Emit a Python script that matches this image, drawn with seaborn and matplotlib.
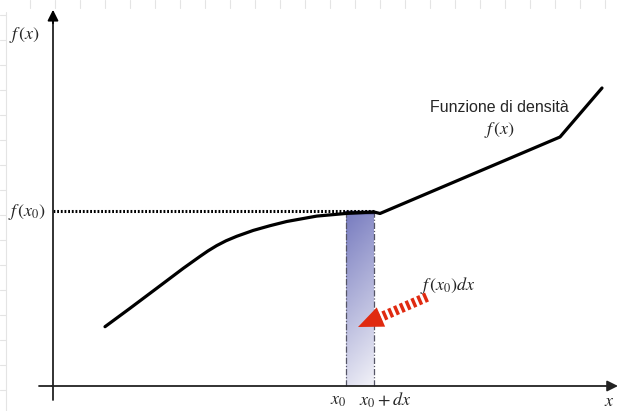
import numpy as np
import pandas as pd
import seaborn as sns
from matplotlib import pyplot as plt
from matplotlib.colors import LinearSegmentedColormap

# density curve, in drawing units (origin where the axes cross)
curve_x = [52, 77, 103.7, 130.3, 147, 155, 163.7, 173, 183.7, 200.3, 217,
           233.7, 263.7, 293.7, 321, 327, 507, 549]
curve_y = [59.3, 77.7, 97.7, 117.7, 129.6, 135.1, 140.4, 145.2, 149.7,
           155.6, 160.3, 164.5, 169.9, 172.6, 174, 172.5, 249, 298]

x0 = 293
dx = 28
fx0 = 174.5

arrow_tail = (374, 89)
arrow_tip = (305, 59)

curve_label = 'Funzione di densità'
tick_labels = [r'$x_0$', r'$x_0 + dx$']

sns.set_theme(style='white')
plt.rcParams['mathtext.fontset'] = 'stix'
plt.rcParams['font.family'] = ['Liberation Sans', 'DejaVu Sans']

fig = plt.figure(figsize=(6.18, 4.11), dpi=100)
ax = fig.add_axes([0, 0, 1, 1])
ax.set_xlim(-53, 565)
ax.set_ylim(-25, 386)
ax.axis('off')

# faint spreadsheet edges in the background
grid_c = '#e4e4e4'
ax.plot([-47, -47], [-25, 374], color=grid_c, lw=0.8)
for yy in np.arange(371, -25, -25):
    ax.plot([-53, -47], [yy, yy], color=grid_c, lw=0.8)
for xx in np.arange(-23, 565, 25):
    ax.plot([xx, xx], [386, 378], color=grid_c, lw=0.8)

# shaded strip f(x0) dx with a gradient
cmap = LinearSegmentedColormap.from_list('strip', ['#f2f2f8', '#777bbf'])
v = np.linspace(0, 1, 200)[:, None]
h = np.linspace(1, 0, 40)[None, :]
grad = 0.85 * v + 0.15 * h
ax.imshow(grad, extent=[x0, x0 + dx, 0, fx0], origin='lower', cmap=cmap,
          aspect='auto', zorder=1, vmin=0, vmax=1)
for xe in [x0, x0 + dx]:
    ax.plot([xe, xe], [0, fx0], color='#555566', lw=0.9,
            ls=(0, (5, 1.5, 1, 1.5)), zorder=2)
ax.plot([x0, x0 + dx], [fx0 - 1, fx0 - 1], color='#222255', lw=2.5, zorder=2)

# dotted guide at f(x0)
ax.plot([0, x0 + dx], [fx0, fx0], color='black', lw=2.2,
        ls=(0, (0.6, 0.6)), zorder=3)

# the density curve
df = pd.DataFrame({'x': curve_x, 'y': curve_y})
sns.lineplot(data=df, x='x', y='y', ax=ax, color='black', lw=2.3,
             estimator=None, sort=False, zorder=4,
             solid_joinstyle='round', solid_capstyle='round')
ax.set_xlabel('')
ax.set_ylabel('')

# axes with arrow heads
ax.plot([0, 0], [-14, 370], color='#222222', lw=1.3, zorder=5)
ax.plot([-14, 0], [0, 0], color='#222222', lw=1.3, zorder=5)
ax.annotate('', xy=(0, 379), xytext=(0, 360),
            arrowprops=dict(arrowstyle='-|>', color='black', lw=1.3,
                            mutation_scale=16), zorder=5)
ax.annotate('', xy=(565, 0), xytext=(-1, 0),
            arrowprops=dict(arrowstyle='-|>', color='#222222', lw=1.3,
                            mutation_scale=16, shrinkA=0, shrinkB=0), zorder=5)

# red arrow pointing at the strip: striped shaft, solid head
red = '#e02a10'
tx, ty = arrow_tail
hx, hy = arrow_tip
length = np.hypot(hx - tx, hy - ty)
ux, uy = (hx - tx) / length, (hy - ty) / length
head_len = 25
bx, by = hx - ux * head_len, hy - uy * head_len
ax.plot([tx, bx + ux * 3], [ty, by + uy * 3], color=red, lw=7,
        ls=(0, (0.35, 0.3)), dash_capstyle='butt', zorder=6)
ax.arrow(bx, by, hx - bx, hy - by, width=0.5, head_width=21,
         head_length=head_len, length_includes_head=True,
         color=red, lw=0, zorder=7)

# labels
ms = 13
ax.text(-28, 351, r'$f\,(x)$', fontsize=ms, ha='center', va='center')
ax.text(-26, 174, r'$f\,(x_0)$', fontsize=ms, ha='center', va='center')
ax.text(x0 - 8, -14, tick_labels[0], fontsize=ms, ha='center', va='center')
ax.text(x0 + dx + 11, -14, tick_labels[1], fontsize=ms, ha='center',
        va='center')
ax.text(556, -15, r'$x$', fontsize=ms, ha='center', va='center')
ax.text(395, 101, r'$f\,(x_0)dx$', fontsize=ms, ha='center', va='center')
ax.text(446, 278, curve_label, fontsize=11.5, ha='center', va='center')
ax.text(447, 256, r'$f\,(x)$', fontsize=ms, ha='center', va='center')

fig.savefig('out.png', dpi=100)
